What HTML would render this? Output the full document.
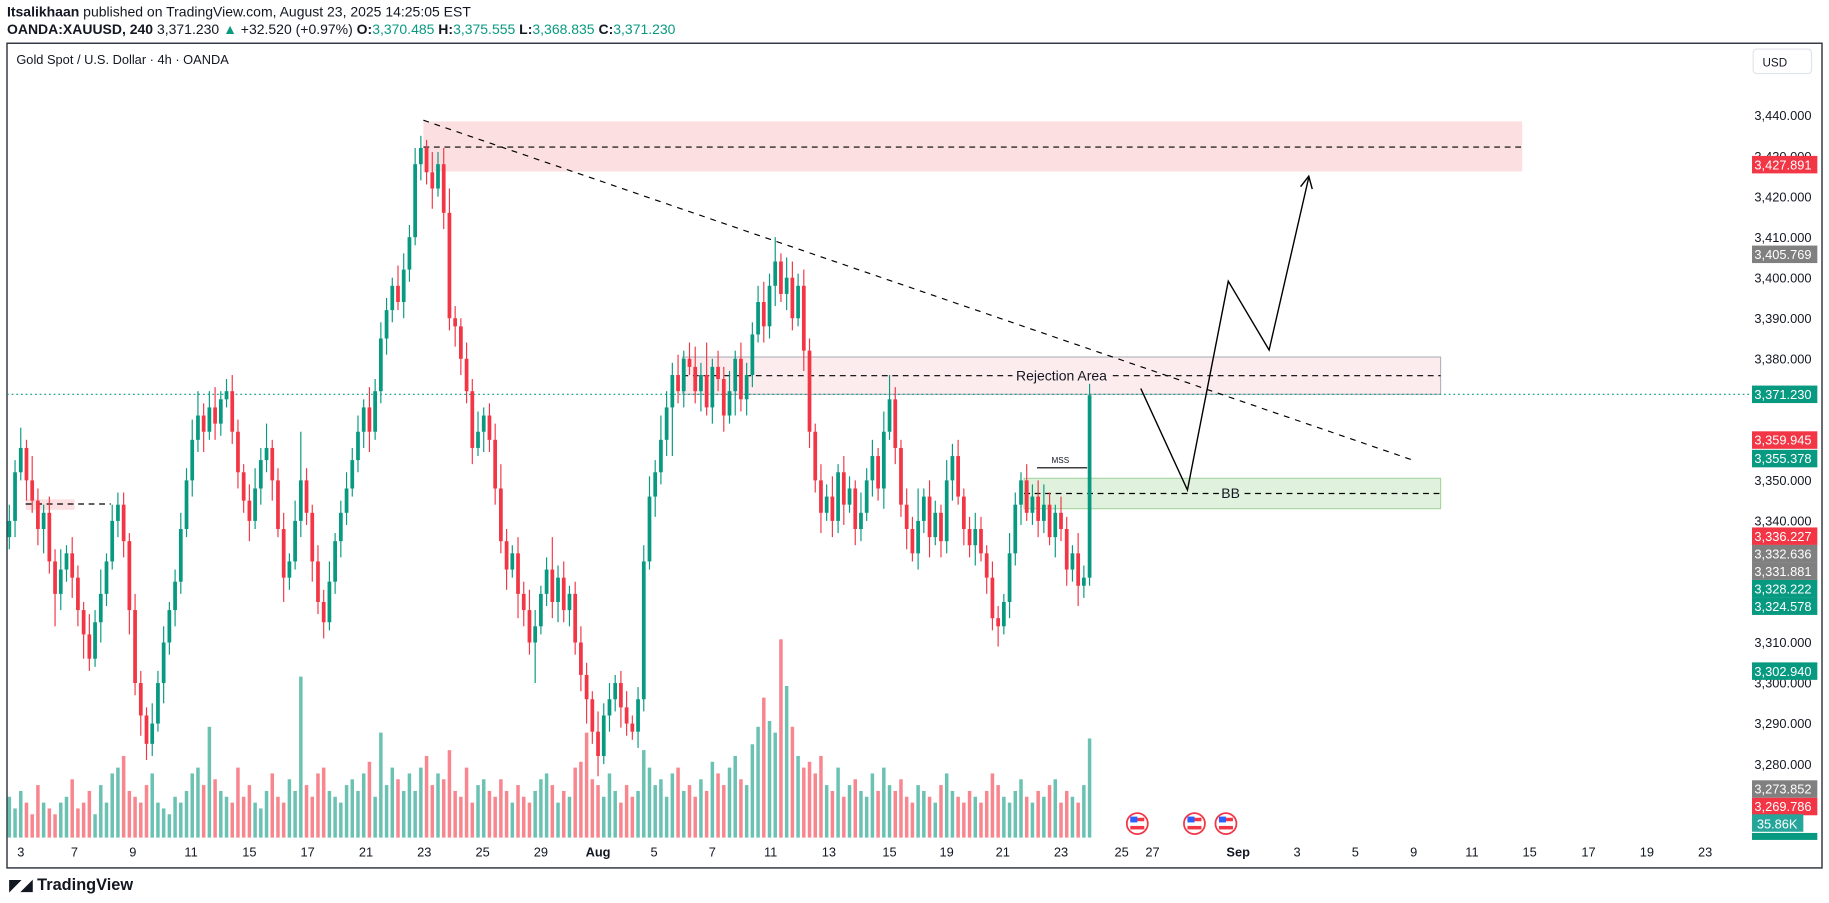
<!DOCTYPE html>
<html><head><meta charset="utf-8"><title>XAUUSD 4h</title>
<style>
html,body{margin:0;padding:0;background:#fff;}
svg{display:block;font-family:"Liberation Sans",sans-serif;}
</style></head>
<body>
<svg id="chart" width="1829" height="903" viewBox="0 0 1568 774" xmlns="http://www.w3.org/2000/svg">
  <text x="6" y="14" font-size="12" fill="#131722"><tspan font-weight="bold">Itsalikhaan</tspan> published on TradingView.com, August 23, 2025 14:25:05 EST</text>
  <text x="6" y="29" font-size="12" fill="#131722"><tspan font-weight="bold">OANDA:XAUUSD, 240</tspan> 3,371.230 <tspan fill="#089981">▲</tspan> +32.520 (+0.97%) <tspan font-weight="bold">O:</tspan><tspan fill="#089981">3,370.485</tspan> <tspan font-weight="bold">H:</tspan><tspan fill="#089981">3,375.555</tspan> <tspan font-weight="bold">L:</tspan><tspan fill="#089981">3,368.835</tspan> <tspan font-weight="bold">C:</tspan><tspan fill="#089981">3,371.230</tspan></text>
  <rect x="6" y="37" width="1556" height="707" fill="#fff" stroke="#2a2e39" stroke-width="1.2"/>
  <text x="14" y="55" font-size="11" fill="#131722">Gold Spot / U.S. Dollar · 4h · OANDA</text>

  <rect x="363" y="104" width="942" height="43" fill="#fcdfe0"/>
  <line x1="363" y1="126" x2="1305" y2="126" stroke="#000" stroke-dasharray="5,4" stroke-width="1"/>
  <rect x="585" y="306" width="650" height="32" fill="#fdecee" stroke="#b2b5be" stroke-width="1"/>
  <line x1="585" y1="322" x2="1235" y2="322" stroke="#000" stroke-dasharray="5,4" stroke-width="1"/>
  <rect x="878" y="410" width="357" height="26" fill="#e0f2dd" stroke="#a8d5a2" stroke-width="1"/>
  <line x1="878" y1="423" x2="1235" y2="423" stroke="#000" stroke-dasharray="5,4" stroke-width="1"/>
  <rect x="22" y="428" width="42" height="9" fill="#fcdfe0"/>
  <line x1="22" y1="432" x2="95" y2="432" stroke="#000" stroke-dasharray="5,4" stroke-width="1"/>

  <line x1="6" y1="338" x2="1500" y2="338" stroke="#089981" stroke-dasharray="1.5,2.5" stroke-width="1"/>

  <g id="volume"></g>
  <g id="candles"></g>

  <line x1="363" y1="103" x2="1213" y2="395" stroke="#000" stroke-dasharray="5,5" stroke-width="1"/>
  <line x1="889" y1="401" x2="932" y2="401" stroke="#000" stroke-width="1"/>
  <text x="909" y="397" font-size="7" text-anchor="middle" fill="#131722">MSS</text>
  <polyline points="978,333 1018,420 1053,241 1088,300 1122,152" fill="none" stroke="#000" stroke-width="1.2"/>
  <polyline points="1115,160 1122,151 1125,162" fill="none" stroke="#000" stroke-width="1.2"/>

  <rect x="868" y="314" width="84" height="15" fill="#fdecee"/>
  <text x="910" y="326" font-size="12" text-anchor="middle" fill="#131722">Rejection Area</text>
  <rect x="1045" y="416" width="20" height="14" fill="#e0f2dd"/>
  <text x="1055" y="427" font-size="12" text-anchor="middle" fill="#131722">BB</text>

  <g id="yaxis"></g>
  <g id="xaxis"></g>

  <rect x="1503" y="42" width="50" height="21" rx="3" fill="#fff" stroke="#e0e3eb"/>
  <text x="1511" y="57" font-size="10" fill="#131722">USD</text>

  <g id="flags"></g>

  <text x="8" y="763" font-size="14" font-weight="bold" fill="#131722"><tspan font-size="13">◤◢</tspan> TradingView</text>
</svg>
<script>
const closes=[3340,3352,3358,3350,3345,3338,3342,3330,3322,3328,
3332,3326,3318,3312,3306,3315,3322,3330,3340,3344,
3335,3318,3300,3292,3285,3290,3300,3310,3318,3325,
3338,3350,3360,3366,3362,3368,3364,3370,3372,3362,
3352,3345,3340,3348,3355,3358,3350,3338,3326,3330,
3340,3350,3342,3330,3320,3315,3325,3335,3342,3348,
3355,3362,3368,3362,3372,3385,3392,3398,3394,3402,
3410,3428,3432,3426,3422,3428,3416,3390,3388,3380,
3372,3358,3362,3366,3360,3348,3335,3328,3332,3322,
3318,3310,3314,3322,3328,3320,3326,3318,3322,3310,
3302,3296,3288,3282,3292,3296,3300,3294,3290,3288,
3296,3330,3346,3352,3360,3368,3376,3372,3380,3378,
3372,3376,3368,3378,3375,3366,3372,3380,3370,3376,
3386,3394,3388,3398,3404,3396,3400,3390,3398,3382,
3362,3350,3342,3346,3340,3352,3344,3348,3338,3342,
3350,3356,3348,3362,3370,3358,3344,3338,3332,3340,
3346,3336,3342,3335,3350,3356,3346,3338,3334,3338,
3332,3326,3316,3314,3320,3332,3344,3350,3342,3346,
3340,3344,3336,3342,3338,3328,3332,3324,3326,3371];
const wickUp=[4,3,5,2,6,3,2,4,3,5,
2,4,3,2,5,3,6,2,4,3,
3,2,4,3,2,5,3,4,2,3,
4,3,5,6,3,4,5,2,3,4,
3,2,4,5,3,6,2,3,4,2,
5,12,3,2,4,3,5,2,3,4,
3,4,2,5,3,4,3,2,5,4,
3,4,3,2,5,3,4,6,3,2,
4,3,5,2,3,4,6,3,2,4,
3,5,4,2,3,8,3,4,2,3,
4,3,2,5,3,4,2,3,4,2,
3,4,5,3,6,4,3,5,2,4,
5,3,8,2,4,3,5,2,4,3,
3,4,5,3,6,2,5,4,3,4,
3,2,4,3,5,2,4,3,2,5,
3,4,2,5,6,3,2,4,3,8,
2,4,3,2,5,3,4,2,3,4,
3,2,4,3,2,5,3,2,4,3,
4,5,3,2,4,3,2,5,3,4];
const wickDn=[3,4,2,5,3,4,6,3,8,4,
3,5,4,6,3,2,5,3,2,4,
4,6,3,5,4,3,2,5,3,4,
3,2,4,3,5,2,4,3,2,3,
4,3,5,2,4,3,5,2,6,3,
2,4,3,5,3,4,2,3,4,3,
2,3,4,5,2,3,4,3,2,4,
3,2,4,3,5,2,4,3,5,4,
3,4,2,5,3,4,3,5,2,6,
4,3,10,2,3,4,5,3,4,3,
4,6,3,5,2,4,3,5,3,2,
4,3,2,5,3,4,12,3,4,2,
3,5,2,4,3,4,2,6,3,4,
3,2,4,3,5,2,4,3,2,5,
4,3,5,2,4,3,5,2,4,3,
2,4,3,5,2,4,3,5,2,4,
3,5,2,4,3,5,2,4,3,5,
2,4,3,5,2,4,3,5,2,3,
4,3,2,5,3,4,3,5,3,2];
const vols=[35,25,40,30,20,45,30,25,20,30,
35,50,25,30,40,20,45,30,55,60,
70,40,35,30,45,55,30,25,20,35,
30,40,55,60,45,95,50,40,35,30,
60,35,45,30,25,40,55,35,30,50,
40,138,45,35,55,60,40,35,30,45,
50,40,55,65,35,90,45,60,50,40,
55,40,60,70,45,55,50,75,40,35,
60,30,45,50,40,35,50,40,30,45,
35,30,40,50,55,45,30,40,35,60,
65,90,50,45,35,55,40,30,45,35,
40,75,60,45,50,35,55,60,40,45,
35,50,40,65,55,45,60,70,50,45,
80,95,120,100,90,170,130,95,70,60,
65,55,70,45,40,60,35,45,50,40,
35,55,40,60,45,40,50,35,30,45,
40,35,30,45,55,40,35,30,40,35,
30,40,55,45,35,30,40,50,35,30,
40,35,45,50,30,40,35,30,45,85];
const firstOpen=3336;
const priceTicks=[3440,3430,3420,3410,3400,3390,3380,3350,3340,3310,3300,3290,3280];
const markerLabels=["3,427.891","3,405.769","3,371.230","3,359.945","3,355.378","3,336.227","3,332.636","3,331.881","3,328.222","3,324.578","3,302.940","3,273.852","3,269.786"];
const markerPrices=[3427.891,3405.769,3371.230,3359.945,3355.378,3336.227,3332.636,3331.881,3328.222,3324.578,3302.940,3273.852,3269.786];
const markerKinds=["r","g","u","r","u","r","g","g","u","u","u","g","r"];
const dateLabels=["3","7","9","11","15","17","21","23","25","29","Aug","5","7","11","13","15","19","21","23","25","27","Sep","3","5","9","11","15","17","19","23"];
const dateIndex=[2,11.4,21.6,31.8,42,52.2,62.4,72.6,82.8,93,103,112.8,123,133.2,143.4,154,164,173.8,184,194.6,200,215,225.3,235.5,245.7,255.9,266,276.3,286.5,296.7];

const NS="http://www.w3.org/2000/svg";
function x(i){return 8+i*4.9;}
function y(p){return 99+(3440-p)*3.475;}
function yv(v){return 718-v*1.0;}
function mk(tag,attrs,parent){const e=document.createElementNS(NS,tag);for(const k in attrs)e.setAttribute(k,attrs[k]);parent.appendChild(e);return e;}

const cg=document.getElementById('candles'), vg=document.getElementById('volume');
for(let i=0;i<closes.length;i++){
  const o=i===0?firstOpen:closes[i-1], c=closes[i];
  const up=c>=o, col=up?'#089981':'#f23645';
  const hi=Math.max(o,c)+wickUp[i], lo=Math.min(o,c)-wickDn[i];
  const v=mk('rect',{x:x(i)-1.5,y:yv(vols[i]),width:3,height:vols[i],fill:col,'fill-opacity':0.6},vg);
  
  
  const w=mk('line',{x1:x(i),x2:x(i),y1:y(hi),y2:y(lo),stroke:col,'stroke-width':1},cg);
  
  
  const top=y(Math.max(o,c)), h=Math.max(1,Math.abs(y(o)-y(c)));
  const b=mk('rect',{x:x(i)-1.6,y:top,width:3.2,height:h,fill:col},cg);
  
  
}
const ya=document.getElementById('yaxis');
priceTicks.forEach(p=>{
  const t=mk('text',{x:1553,y:y(p)+4,'font-size':11,'text-anchor':'end',fill:'#131722'},ya);
  
  
  t.textContent=p.toLocaleString('en-US')+'.000';
});
const kc={r:'#f23645',g:'#808080',u:'#089981'};
let lastY=-100;
markerPrices.forEach((p,i)=>{
  let cy=y(p);
  if(cy<lastY+15) cy=lastY+15;
  lastY=cy;
  const r=mk('rect',{x:1502,y:cy-7.5,width:56,height:15,fill:kc[markerKinds[i]]},ya);
  
  
  const t=mk('text',{x:1553,y:cy+4,'font-size':11,'text-anchor':'end',fill:'#fff'},ya);
  
  
  t.textContent=markerLabels[i];
});
const vm=mk('rect',{x:1502,y:698,width:44,height:15,fill:'#26a69a'},ya);


const vt=mk('text',{x:1541,y:710,'font-size':11,'text-anchor':'end',fill:'#fff'},ya);


vt.textContent='35.86K';
const vm2=mk('rect',{x:1502,y:714,width:56,height:6,fill:'#089981'},ya);



const xa=document.getElementById('xaxis');
dateLabels.forEach((d,i)=>{
  const t=mk('text',{x:x(dateIndex[i]),y:734,'font-size':11,'text-anchor':'middle',fill:'#131722','font-weight':(d==='Aug'||d==='Sep')?'bold':'normal'},xa);
  
  
  t.textContent=d;
});
const fg=document.getElementById('flags');
[975,1024,1051].forEach(fx=>{
  const c1=mk('circle',{cx:fx,cy:706,r:9,fill:'#fff',stroke:'#f23645','stroke-width':1.5},fg);
  
  
  const c2=mk('rect',{x:fx-6,y:701,width:12,height:3,fill:'#f23645'},fg);
  
  
  const c3=mk('rect',{x:fx-6,y:700,width:6,height:5,fill:'#2962ff'},fg);
  
  
  const c4=mk('rect',{x:fx-6,y:708,width:12,height:3,fill:'#f23645'},fg);
  
  
});
</script>
</body></html>
